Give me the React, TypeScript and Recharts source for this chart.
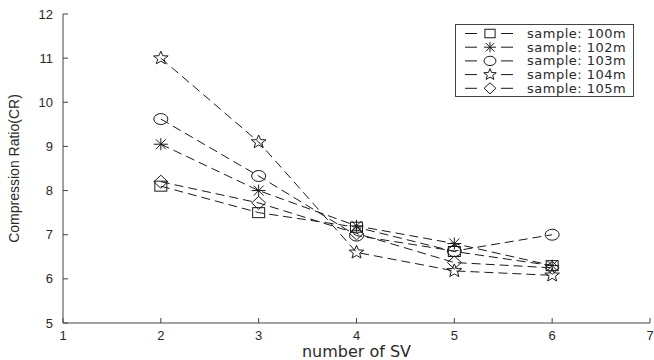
import React from "react";
import { LineChart, Line, XAxis, YAxis, Legend } from "recharts";

// number of support vectors (x) and compression ratio per sample
const svCounts = [2, 3, 4, 5, 6];
const cr100 = [8.1, 7.5, 7.17, 6.62, 6.3];
const cr102 = [9.05, 8.0, 7.2, 6.8, 6.3];
const cr103 = [9.62, 8.33, 6.98, 6.63, 7.0];
const cr104 = [11.0, 9.1, 6.6, 6.18, 6.08];
const cr105 = [8.2, 7.72, 7.03, 6.37, 6.25];

const xTicks = [1, 2, 3, 4, 5, 6, 7];
const yTicks = [5, 6, 7, 8, 9, 10, 11, 12];

type Shape = "square" | "asterisk" | "circle" | "star" | "diamond";

const series: { key: string; name: string; shape: Shape; values: number[] }[] = [
  { key: "s100", name: "sample: 100m", shape: "square", values: cr100 },
  { key: "s102", name: "sample: 102m", shape: "asterisk", values: cr102 },
  { key: "s103", name: "sample: 103m", shape: "circle", values: cr103 },
  { key: "s104", name: "sample: 104m", shape: "star", values: cr104 },
  { key: "s105", name: "sample: 105m", shape: "diamond", values: cr105 },
];

const data = svCounts.map((sv, i) => {
  const row: Record<string, number> = { sv };
  series.forEach((s) => (row[s.key] = s.values[i]));
  return row;
});

const INK = "#1a1a1a";
const AXIS = "#444";
const TEXT = "#2a2a2a";
const TICK_FONT = "'Liberation Sans', Arial, sans-serif";

function Marker({ shape, cx, cy, s = 1 }: { shape: Shape; cx: number; cy: number; s?: number }) {
  const common = { fill: "none", stroke: INK, strokeWidth: 1 };
  if (shape === "square") {
    return <rect x={cx - 6 * s} y={cy - 5 * s} width={12 * s} height={10 * s} {...common} />;
  }
  if (shape === "circle") {
    return <ellipse cx={cx} cy={cy} rx={7 * s} ry={5.5 * s} {...common} />;
  }
  if (shape === "diamond") {
    const w = 7 * s;
    const h = 6.5 * s;
    return (
      <polygon
        points={`${cx},${cy - h} ${cx + w},${cy} ${cx},${cy + h} ${cx - w},${cy}`}
        {...common}
      />
    );
  }
  if (shape === "asterisk") {
    return (
      <g {...common}>
        <line x1={cx - 7 * s} y1={cy} x2={cx + 7 * s} y2={cy} />
        <line x1={cx} y1={cy - 6 * s} x2={cx} y2={cy + 6 * s} />
        <line x1={cx - 5 * s} y1={cy - 5 * s} x2={cx + 5 * s} y2={cy + 5 * s} />
        <line x1={cx - 5 * s} y1={cy + 5 * s} x2={cx + 5 * s} y2={cy - 5 * s} />
      </g>
    );
  }
  // pentagram
  const pts: string[] = [];
  for (let k = 0; k < 10; k++) {
    const r = (k % 2 === 0 ? 7 : 3) * s;
    const a = -Math.PI / 2 + (k * Math.PI) / 5;
    pts.push(`${cx + r * Math.cos(a) * 1.1},${cy + r * Math.sin(a)}`);
  }
  return <polygon points={pts.join(" ")} {...common} />;
}

const BottomTick = ({ x, y, payload }: any) => (
  <g>
    <line x1={x} y1={y} x2={x} y2={y - 5} stroke={AXIS} />
    <text x={x} y={y + 17} textAnchor="middle" fontSize={13} fill={TEXT} fontFamily={TICK_FONT}>
      {payload.value}
    </text>
  </g>
);

const LeftTick = ({ x, y, payload }: any) => (
  <g>
    <line x1={x} y1={y} x2={x + 5} y2={y} stroke={AXIS} />
    <text x={x - 10} y={y + 4.5} textAnchor="end" fontSize={13} fill={TEXT} fontFamily={TICK_FONT}>
      {payload.value}
    </text>
  </g>
);

const TopTick = ({ x, y }: any) => <line x1={x} y1={y} x2={x} y2={y + 5} stroke={AXIS} />;
const RightTick = ({ x, y }: any) => <line x1={x} y1={y} x2={x - 5} y2={y} stroke={AXIS} />;

const LegendBox = () => (
  <div
    style={{
      width: 179,
      height: 73,
      border: `1px solid ${AXIS}`,
      background: "#fff",
      boxSizing: "border-box",
    }}
  >
    <svg width={177} height={71} style={{ display: "block" }}>
      {series.map((s, i) => {
        const cy = 8.5 + i * 13.7;
        return (
          <g key={s.key}>
            <line x1={9} y1={cy} x2={21} y2={cy} stroke={INK} />
            <Marker shape={s.shape} cx={34} cy={cy} s={0.85} />
            <line x1={45} y1={cy} x2={57} y2={cy} stroke={INK} />
            <text
              x={71}
              y={cy + 4.5}
              fontSize={13}
              letterSpacing={0.5}
              fill={TEXT}
              fontFamily="'DejaVu Sans', sans-serif"
            >
              {s.name}
            </text>
          </g>
        );
      })}
    </svg>
  </div>
);

export default function App() {
  return (
    <div style={{ position: "absolute", left: 0, top: 0, background: "#fff" }}>
      <LineChart
        width={654}
        height={360}
        data={data}
        margin={{ top: 14, right: 4, left: 0, bottom: 0 }}
      >
        <XAxis
          dataKey="sv"
          type="number"
          domain={[1, 7]}
          ticks={xTicks}
          height={37}
          tickSize={0}
          tickMargin={0}
          tickLine={false}
          axisLine={{ stroke: AXIS }}
          tick={<BottomTick />}
          interval={0}
          label={(props: any) => {
            const vb = props.viewBox;
            return (
              <text
                x={vb.x + vb.width / 2}
                y={357}
                textAnchor="middle"
                fontSize={16}
                fill={TEXT}
                fontFamily="'DejaVu Sans', sans-serif"
              >
                number of SV
              </text>
            );
          }}
        />
        <XAxis
          xAxisId="top"
          orientation="top"
          type="number"
          domain={[1, 7]}
          ticks={xTicks}
          height={0}
          tickSize={0}
          tickMargin={0}
          tickLine={false}
          axisLine={{ stroke: AXIS }}
          tick={<TopTick />}
          interval={0}
        />
        <YAxis
          type="number"
          domain={[5, 12]}
          ticks={yTicks}
          width={63}
          tickSize={0}
          tickMargin={0}
          tickLine={false}
          axisLine={{ stroke: AXIS }}
          tick={<LeftTick />}
          interval={0}
          label={(props: any) => {
            const vb = props.viewBox;
            const cy = vb.y + vb.height / 2;
            return (
              <text
                x={14}
                y={cy}
                transform={`rotate(-90 14 ${cy})`}
                textAnchor="middle"
                dominantBaseline="central"
                fontSize={14}
                fill={TEXT}
                fontFamily={TICK_FONT}
              >
                Compression Ratio(CR)
              </text>
            );
          }}
        />
        <YAxis
          yAxisId="right"
          orientation="right"
          type="number"
          domain={[5, 12]}
          ticks={yTicks}
          width={0}
          tickSize={0}
          tickMargin={0}
          tickLine={false}
          axisLine={{ stroke: AXIS }}
          tick={<RightTick />}
          interval={0}
        />
        <Legend
          layout="vertical"
          verticalAlign="middle"
          align="center"
          content={<LegendBox />}
          wrapperStyle={{ position: "absolute", left: 455, top: 24, width: 179 }}
        />
        {series.map((s) => (
          <Line
            key={s.key}
            dataKey={s.key}
            name={s.name}
            stroke={INK}
            strokeWidth={1}
            strokeDasharray="9 5"
            isAnimationActive={false}
            legendType="none"
            dot={(p: any) => <Marker key={`${s.key}-${p.index}`} shape={s.shape} cx={p.cx} cy={p.cy} />}
            activeDot={false}
          />
        ))}
      </LineChart>
    </div>
  );
}
